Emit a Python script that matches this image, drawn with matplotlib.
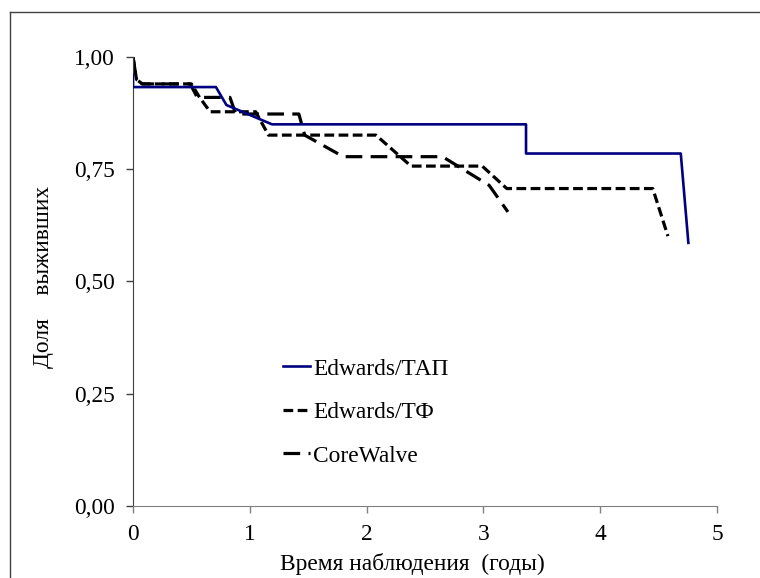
import matplotlib
matplotlib.use("Agg")
import matplotlib.pyplot as plt
from matplotlib.lines import Line2D
from matplotlib.ticker import FuncFormatter

plt.rcParams["font.family"] = ["Liberation Serif", "DejaVu Serif"]
plt.rcParams["lines.scale_dashes"] = False

# Edwards/ТАП
tap_x = [0, 0, 0.71, 0.80, 1.19, 3.365, 3.365, 4.69, 4.755]
tap_y = [0.96, 0.933, 0.933, 0.893, 0.850, 0.850, 0.785, 0.785, 0.586]

# Edwards/ТФ
tf_x = [0, 0.03, 0.08, 0.50, 0.57, 0.66, 1.05, 1.16, 2.08, 2.38, 2.99, 3.20, 4.45, 4.58]
tf_y = [1.0, 0.95, 0.940, 0.940, 0.910, 0.878, 0.878, 0.826, 0.826, 0.757, 0.757, 0.707, 0.707, 0.601]

# CoreWalve
cw_x = [0, 0.03, 0.08, 0.49, 0.55, 0.83, 0.88, 1.42, 1.47, 1.80, 2.65, 3.05, 3.21]
cw_y = [1.0, 0.95, 0.940, 0.940, 0.910, 0.910, 0.873, 0.873, 0.826, 0.778, 0.778, 0.714, 0.655]

x_ticks = [0, 1, 2, 3, 4, 5]
y_ticks = [0, 0.25, 0.5, 0.75, 1.0]

FS = 16.8

fig = plt.figure(figsize=(7.6, 5.78), dpi=100)
ax = fig.add_axes([0.175, 0.1246, 0.7684, 0.7768])

ax.plot(tap_x, tap_y, color="#000080", lw=1.9, label="Edwards/ТАП", zorder=3)
ax.plot(tf_x, tf_y, color="black", lw=2.3, dashes=(7, 3.2), label="Edwards/ТФ")
ax.plot(cw_x, cw_y, color="black", lw=2.3, dashes=(12, 6), label="CoreWalve")

ax.set_xlim(0, 5)
ax.set_ylim(0, 1)
ax.set_xticks(x_ticks)
ax.set_yticks(y_ticks)
ax.yaxis.set_major_formatter(FuncFormatter(lambda v, p: f"{v:.2f}".replace(".", ",")))
ax.tick_params(axis="both", labelsize=FS, direction="out", length=5, width=1)
ax.tick_params(axis="x", colors="#808080", labelcolor="black", pad=8)
ax.tick_params(axis="y", colors="#404040", labelcolor="black", pad=8)
for s in ["top", "right"]:
    ax.spines[s].set_visible(False)
ax.spines["bottom"].set_color("#808080")
ax.spines["left"].set_color("#404040")

ax.set_xlabel("Время наблюдения  (годы)", fontsize=FS)
ax.set_ylabel("Доля    выживших", fontsize=FS)
ax.xaxis.set_label_coords(0.478, -0.105)
ax.yaxis.set_label_coords(-0.135, 0.51)

handles = [
    Line2D([], [], color="#000080", lw=1.9),
    Line2D([], [], color="black", lw=2.3, dashes=(7, 3.2)),
    Line2D([], [], color="black", lw=2.3, dashes=(12, 6)),
]
ax.legend(handles, ["Edwards/ТАП", "Edwards/ТФ", "CoreWalve"],
          loc="upper left", bbox_to_anchor=(0.257, 0.329), frameon=False,
          borderpad=0, borderaxespad=0,
          fontsize=FS, handlelength=1.16, handletextpad=0.12, labelspacing=0.95)

# outer frame (top and left edges visible)
fig.add_artist(Line2D([0.0125, 1.0], [0.979, 0.979], transform=fig.transFigure,
                      color="#404040", lw=1))
fig.add_artist(Line2D([0.0125, 0.0125], [0.0, 0.979], transform=fig.transFigure,
                      color="#404040", lw=1))

fig.savefig("out.png", dpi=100)
